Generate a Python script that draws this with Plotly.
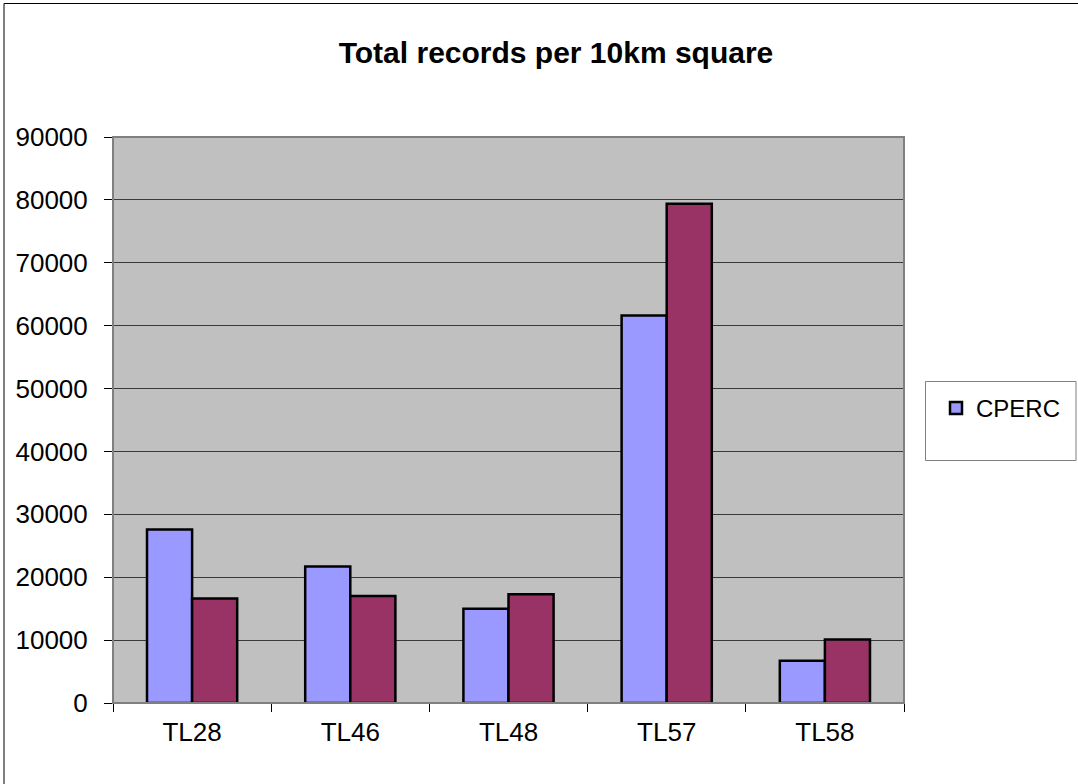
import plotly.graph_objects as go

categories = ["TL28", "TL46", "TL48", "TL57", "TL58"]
cperc_values = [27600, 21700, 15000, 61600, 6700]
second_values = [16600, 17000, 17300, 79400, 10100]
series_name = "CPERC"
title_text = "Total records per 10km square"

W, H = 1078, 784
L, R, T, B = 113, 174, 137, 81
pw, ph = W - L - R, H - T - B

def px(x):
    return (x - L) / pw

def py(y):
    return (H - B - y) / ph

FONT = "Liberation Sans, Arial, sans-serif"

fig = go.Figure()
fig.add_trace(go.Bar(
    x=categories, y=cperc_values, name=series_name,
    marker=dict(color="#9999FF", line=dict(color="#000000", width=2.5)),
))
fig.add_trace(go.Bar(
    x=categories, y=second_values, name="",
    showlegend=False,
    marker=dict(color="#993366", line=dict(color="#000000", width=2.5)),
))

shapes = [
    # outer chart frame
    dict(type="rect", xref="paper", yref="paper",
         x0=px(4), x1=px(1100), y0=py(3.5), y1=py(800),
         line=dict(color="#000000", width=1), fillcolor="rgba(0,0,0,0)", layer="below"),
    # plot area frame (gray)
    dict(type="rect", xref="paper", yref="paper",
         x0=0, x1=1, y0=0, y1=1,
         line=dict(color="#808080", width=2), fillcolor="rgba(0,0,0,0)", layer="above"),
    # legend box
    dict(type="rect", xref="paper", yref="paper",
         x0=px(925.5), x1=px(1076), y0=py(381.5), y1=py(460.5),
         line=dict(color="#808080", width=1), fillcolor="#FFFFFF", layer="below"),
]

fig.update_layout(
    width=W, height=H,
    margin=dict(l=L, r=R, t=T, b=B, pad=0),
    paper_bgcolor="#FFFFFF",
    plot_bgcolor="#C0C0C0",
    barmode="group",
    bargap=0.43,
    bargroupgap=0,
    font=dict(family=FONT, color="#000000"),
    title=dict(text="<b>" + title_text + "</b>", font=dict(size=30, family=FONT, color="#000000"),
               x=556 / W, xref="container", xanchor="center",
               y=1 - 52 / H, yref="container", yanchor="middle"),
    showlegend=True,
    legend=dict(x=px(936), y=py(386), xanchor="left", yanchor="top",
                bgcolor="rgba(0,0,0,0)", borderwidth=0,
                font=dict(size=24, family=FONT, color="#000000")),
    shapes=shapes,
)

fig.update_xaxes(
    showgrid=False, showline=True, linecolor="#000000", linewidth=1,
    ticks="outside", tickson="boundaries", ticklen=8, tickcolor="#000000",
    tickfont=dict(size=26, family=FONT, color="#000000"),
    ticklabelstandoff=6,
    zeroline=False,
)
fig.update_yaxes(
    range=[0, 90000], dtick=10000, tickformat="d",
    showgrid=True, gridcolor="#3a3a3a", gridwidth=1,
    showline=True, linecolor="#000000", linewidth=1,
    ticks="outside", ticklen=8, tickcolor="#000000",
    tickfont=dict(size=26, family=FONT, color="#000000"),
    ticklabelstandoff=11,
    zeroline=False,
)

fig.write_html("out.html")
